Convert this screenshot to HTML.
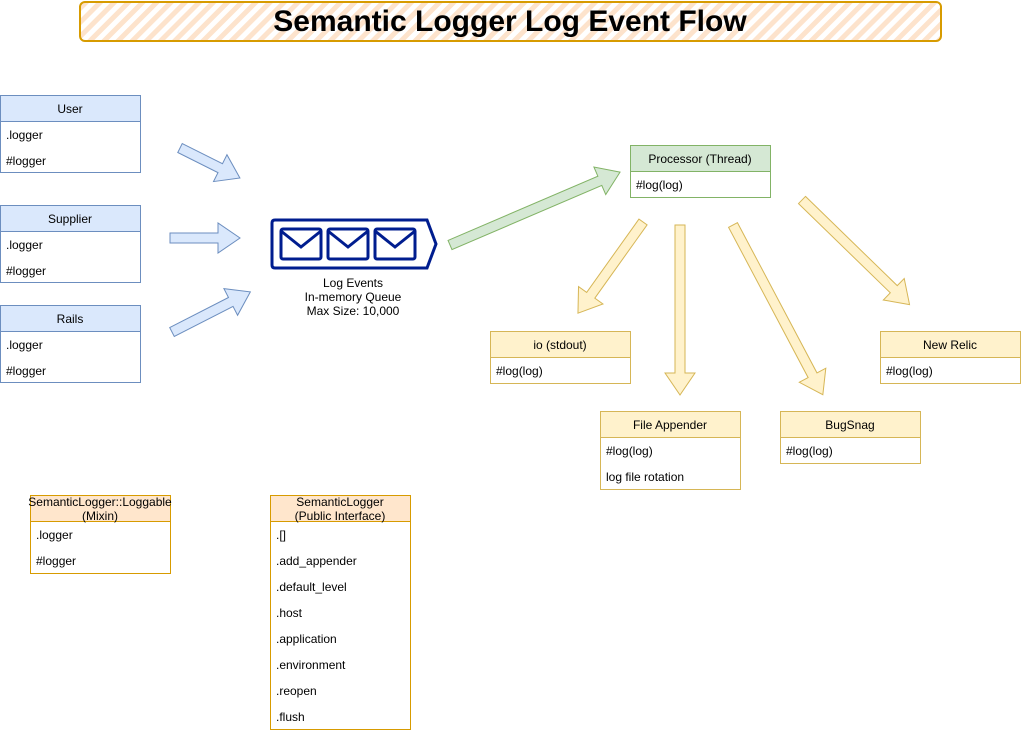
<!DOCTYPE html>
<html><head><meta charset="utf-8"><style>
body{margin:0;background:#fff;}
svg text{font-family:"Liberation Sans",Arial,sans-serif;font-size:12px;fill:#000;}
</style></head><body>
<svg width="1021" height="732" viewBox="0 0 1021 732" xmlns="http://www.w3.org/2000/svg">
<defs>
<pattern id="hatch" width="10" height="10" patternUnits="userSpaceOnUse" patternTransform="rotate(45)">
<rect width="10" height="10" fill="#fff"/><rect width="5" height="10" fill="#fde3cc"/>
</pattern>
</defs>
<rect x="80" y="2" width="861" height="39" rx="5" fill="url(#hatch)" stroke="#d79b00" stroke-width="2"/>
<text x="510" y="31" text-anchor="middle" style="font-size:30px;font-weight:bold">Semantic Logger Log Event Flow</text>

<!-- blue arrows -->
<g fill="#dae8fc" stroke="#6c8ebf">
<polygon transform="translate(180,148) rotate(26.6)" points="0,-5 45,-5 45,-15 67,0 45,15 45,5 0,5"/>
<polygon transform="translate(170,238)" points="0,-5 48,-5 48,-15 70,0 48,15 48,5 0,5"/>
<polygon transform="translate(172,332) rotate(-27.1)" points="0,-5 66,-5 66,-15 88,0 66,15 66,5 0,5"/>
</g>
<polygon fill="#d5e8d4" stroke="#82b366" transform="translate(450,245) rotate(-23.2)" points="0,-5 163,-5 163,-15 185,0 163,15 163,5 0,5"/>
<g fill="#fff2cc" stroke="#d6b656">
<polygon transform="translate(643,222) rotate(125.5)" points="0,-5 90,-5 90,-15 112,0 90,15 90,5 0,5"/>
<polygon transform="translate(680,225) rotate(90)" points="0,-5 148,-5 148,-15 170,0 148,15 148,5 0,5"/>
<polygon transform="translate(733,225) rotate(62.1)" points="0,-5 170,-5 170,-15 192,0 170,15 170,5 0,5"/>
<polygon transform="translate(802,200) rotate(44.2)" points="0,-5 128,-5 128,-15 150,0 128,15 128,5 0,5"/>
</g>

<!-- queue -->
<g fill="none" stroke="#001d8f" stroke-width="3">
<path d="M275,220 H427 L436,244 L427,268 H275 Q272,268 272,265 V223 Q272,220 275,220 Z"/>
<rect x="281" y="229" width="40" height="30" rx="2"/>
<rect x="328" y="229" width="40" height="30" rx="2"/>
<rect x="375" y="229" width="40" height="30" rx="2"/>
<path d="M281,231 L301,247 L321,231 M328,231 L348,247 L368,231 M375,231 L395,247 L415,231"/>
</g>
<text x="353" y="287" text-anchor="middle">Log Events</text>
<text x="353" y="301" text-anchor="middle">In-memory Queue</text>
<text x="353" y="315" text-anchor="middle">Max Size: 10,000</text>

<!-- blue boxes -->
<g stroke="#6c8ebf">
<rect x="0.5" y="95.5" width="140" height="77" fill="#fff"/><rect x="0.5" y="95.5" width="140" height="26" fill="#dae8fc"/>
<rect x="0.5" y="205.5" width="140" height="77" fill="#fff"/><rect x="0.5" y="205.5" width="140" height="26" fill="#dae8fc"/>
<rect x="0.5" y="305.5" width="140" height="77" fill="#fff"/><rect x="0.5" y="305.5" width="140" height="26" fill="#dae8fc"/>
</g>
<text x="70" y="113" text-anchor="middle">User</text><text x="6" y="139">.logger</text><text x="6" y="165">#logger</text>
<text x="70" y="223" text-anchor="middle">Supplier</text><text x="6" y="249">.logger</text><text x="6" y="275">#logger</text>
<text x="70" y="323" text-anchor="middle">Rails</text><text x="6" y="349">.logger</text><text x="6" y="375">#logger</text>

<!-- processor -->
<rect x="630.5" y="145.5" width="140" height="52" fill="#fff" stroke="#82b366"/>
<rect x="630.5" y="145.5" width="140" height="26" fill="#d5e8d4" stroke="#82b366"/>
<text x="700" y="163" text-anchor="middle">Processor (Thread)</text><text x="636" y="189">#log(log)</text>

<!-- yellow boxes -->
<g stroke="#d6b656">
<rect x="490.5" y="331.5" width="140" height="52" fill="#fff"/><rect x="490.5" y="331.5" width="140" height="26" fill="#fff2cc"/>
<rect x="880.5" y="331.5" width="140" height="52" fill="#fff"/><rect x="880.5" y="331.5" width="140" height="26" fill="#fff2cc"/>
<rect x="600.5" y="411.5" width="140" height="78" fill="#fff"/><rect x="600.5" y="411.5" width="140" height="26" fill="#fff2cc"/>
<rect x="780.5" y="411.5" width="140" height="52" fill="#fff"/><rect x="780.5" y="411.5" width="140" height="26" fill="#fff2cc"/>
</g>
<text x="560" y="349" text-anchor="middle">io (stdout)</text><text x="496" y="375">#log(log)</text>
<text x="950" y="349" text-anchor="middle">New Relic</text><text x="886" y="375">#log(log)</text>
<text x="670" y="429" text-anchor="middle">File Appender</text><text x="606" y="455">#log(log)</text><text x="606" y="481">log file rotation</text>
<text x="850" y="429" text-anchor="middle">BugSnag</text><text x="786" y="455">#log(log)</text>

<!-- orange boxes -->
<g stroke="#d79b00">
<rect x="30.5" y="495.5" width="140" height="78" fill="#fff"/><rect x="30.5" y="495.5" width="140" height="26" fill="#ffe6cc"/>
<rect x="270.5" y="495.5" width="140" height="234" fill="#fff"/><rect x="270.5" y="495.5" width="140" height="26" fill="#ffe6cc"/>
</g>
<text x="100" y="506" text-anchor="middle">SemanticLogger::Loggable</text><text x="100" y="520" text-anchor="middle">(Mixin)</text>
<text x="36" y="539">.logger</text><text x="36" y="565">#logger</text>
<text x="340" y="506" text-anchor="middle">SemanticLogger</text><text x="340" y="520" text-anchor="middle">(Public Interface)</text>
<text x="276" y="539">.[]</text><text x="276" y="565">.add_appender</text><text x="276" y="591">.default_level</text>
<text x="276" y="617">.host</text><text x="276" y="643">.application</text><text x="276" y="669">.environment</text>
<text x="276" y="695">.reopen</text><text x="276" y="721">.flush</text>
</svg>
</body></html>
